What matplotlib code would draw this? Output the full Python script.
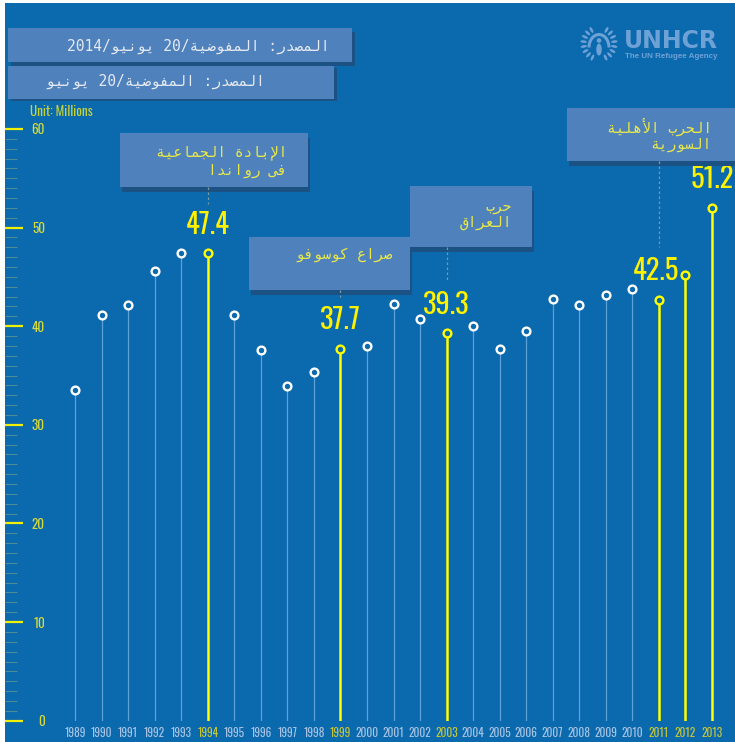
import re
import math
import matplotlib
matplotlib.use("Agg")
import matplotlib.pyplot as plt
from matplotlib import font_manager as fm
from matplotlib.font_manager import FontProperties
from matplotlib.ft2font import FT2Font
from matplotlib.patches import Rectangle, Ellipse, Circle, Arc
from matplotlib.ticker import FixedLocator
import matplotlib.transforms as mtransforms

# ---------------- data ----------------
years = list(range(1989, 2014))
values = [33.5, 41.1, 42.1, 45.6, 47.4, 47.4, 41.1, 37.6, 33.9, 35.4,
          37.7, 38.0, 42.2, 40.7, 39.3, 40.0, 37.7, 39.5, 42.8, 42.1,
          43.2, 43.8, 42.7, 45.2, 52.0]
highlight_years = [1994, 1999, 2003, 2011, 2012, 2013]
label_years = [1994, 1999, 2003, 2011, 2013]
label_texts = ["47.4", "37.7", "39.3", "42.5", "51.2"]
y_ticks = [0, 10, 20, 30, 40, 50, 60]
unit_label = "Unit: Millions"
source_lines = ["المصدر: المفوضية/20 يونيو/2014", "المصدر: المفوضية/20 يونيو"]
event_years = [1994, 1999, 2003, 2011]
event_texts = [["الإبادة الجماعية", "فى رواندا"],
               ["صراع كوسوفو"],
               ["حرب", "العراق"],
               ["الحرب الأهلية", "السورية"]]
logo_title = "UNHCR"
logo_sub = "The UN Refugee Agency"

# ---------------- colours ----------------
BG = "#0b69ad"
BOX = "#4f81bd"
SHADOW = "#1c5283"
STEM = "#5ea0d8"
YEL = "#ffff00"
LBL_YEL = "#fff200"
TICK_LBL = "#d6d93a"
YEAR_C = "#a8c3e3"
YEAR_HL = "#c6c63a"
MINOR = "#4b8c96"
CONN = "#7a9aa0"
LOGO = "#6ea1d6"
HEAD_TXT = "#e4e9f2"
ANN_TXT = "#e8e84a"

# ---------------- fonts ----------------
avail = {f.name for f in fm.fontManager.ttflist}


def pick(cands):
    for c in cands:
        if c in avail:
            return c
    return "DejaVu Sans"


COND = pick(["Oswald", "Bebas Neue", "Roboto Condensed", "Archivo Narrow",
             "Liberation Sans Narrow", "DejaVu Sans"])


def has_arabic(fam):
    try:
        p = fm.findfont(FontProperties(family=fam), fallback_to_default=False)
        cm = FT2Font(p).get_charmap()
        return 0xFEE3 in cm and 0xFEFB in cm
    except Exception:
        return False


ARAB = "DejaVu Sans Mono" if has_arabic("DejaVu Sans Mono") else "DejaVu Sans"

# ---------------- arabic shaping for display ----------------
RJ = {0x0622: 0xFE81, 0x0623: 0xFE83, 0x0624: 0xFE85, 0x0625: 0xFE87,
      0x0627: 0xFE8D, 0x0629: 0xFE93, 0x062F: 0xFEA9, 0x0630: 0xFEAB,
      0x0631: 0xFEAD, 0x0632: 0xFEAF, 0x0648: 0xFEED, 0x0649: 0xFEEF}
DJ = {0x0626: 0xFE89, 0x0628: 0xFE8F, 0x062A: 0xFE95, 0x062B: 0xFE99,
      0x062C: 0xFE9D, 0x062D: 0xFEA1, 0x062E: 0xFEA5, 0x0633: 0xFEB1,
      0x0634: 0xFEB5, 0x0635: 0xFEB9, 0x0636: 0xFEBD, 0x0637: 0xFEC1,
      0x0638: 0xFEC5, 0x0639: 0xFEC9, 0x063A: 0xFECD, 0x0641: 0xFED1,
      0x0642: 0xFED5, 0x0643: 0xFED9, 0x0644: 0xFEDD, 0x0645: 0xFEE1,
      0x0646: 0xFEE5, 0x0647: 0xFEE9, 0x064A: 0xFEF1}
LAMALEF = {0x0622: 0xFEF5, 0x0623: 0xFEF7, 0x0625: 0xFEF9, 0x0627: 0xFEFB}


def rtl(s):
    toks = []
    i = 0
    while i < len(s):
        c = ord(s[i])
        if c == 0x0644 and i + 1 < len(s) and ord(s[i + 1]) in LAMALEF:
            toks.append(("LA", LAMALEF[ord(s[i + 1])]))
            i += 2
            continue
        if c in DJ:
            toks.append(("DJ", DJ[c]))
        elif c in RJ:
            toks.append(("RJ", RJ[c]))
        else:
            toks.append(("N", s[i]))
        i += 1
    out = []
    for k, (kind, val) in enumerate(toks):
        if kind == "N":
            out.append(val)
            continue
        prev = k > 0 and toks[k - 1][0] == "DJ"
        nxt = kind == "DJ" and k + 1 < len(toks) and toks[k + 1][0] in ("DJ", "RJ", "LA")
        if kind == "DJ":
            off = (1 if prev else 0) + (2 if nxt else 0)
        else:
            off = 1 if prev else 0
        out.append(chr(val + off))
    runs = re.findall(r"[0-9A-Za-z.]+|[^0-9A-Za-z.]", "".join(out))
    return "".join(reversed(runs))


# ---------------- figure ----------------
W, H = 735, 742
fig = plt.figure(figsize=(W / 100, H / 100), dpi=100, facecolor="white")
fig.patches.append(Rectangle((5 / W, 0), (W - 5) / W, (H - 3) / H,
                             transform=fig.transFigure, facecolor=BG,
                             edgecolor="none", zorder=-5))

y0_px = 720.7   # pixel row of value 0
ax = fig.add_axes([5 / W, (H - y0_px) / H, (W - 5) / W, (y0_px - 3) / H], zorder=1)
ax.set_facecolor("none")
for s in ax.spines.values():
    s.set_visible(False)
ax.set_xlim(1986.363, 2013.866)
ax.set_ylim(0, 72.77)

vals = dict(zip(years, values))
light_x = [y for y in years if y not in highlight_years]
hl_x = [y for y in years if y in highlight_years]
ax.vlines(light_x, 0, [vals[y] for y in light_x], colors=STEM, linewidth=0.9, zorder=2)
ax.vlines(hl_x, 0, [vals[y] for y in hl_x], colors=YEL, linewidth=1.8, zorder=2)
ax.plot(light_x, [vals[y] for y in light_x], linestyle="none", marker="o",
        ms=5.6, mew=1.7, mec="white", mfc=BG, zorder=4, clip_on=False)
ax.plot(hl_x, [vals[y] for y in hl_x], linestyle="none", marker="o",
        ms=5.6, mew=1.7, mec=YEL, mfc=BG, zorder=4, clip_on=False)

# value labels (small horizontal nudge for the 2011 label, as in the original)
label_dx = [0, 0, 0, -2, 0]
for yr, txt, dx in zip(label_years, label_texts, label_dx):
    ax.annotate(txt, xy=(yr, vals[yr]), xytext=(dx, 20.5), textcoords="offset points",
                ha="center", va="center", fontsize=20.5, color=LBL_YEL,
                family=COND, fontweight="bold", zorder=5)

# x tick labels (years)
ax.set_xticks(years)
ax.set_xticklabels([str(y) for y in years])
ax.tick_params(axis="x", length=0, pad=4.5, labelsize=8.2)
for lbl, yr in zip(ax.get_xticklabels(), years):
    lbl.set_family(COND)
    lbl.set_color(YEAR_HL if yr in highlight_years else YEAR_C)

# y ticks
ax.set_yticks(y_ticks)
ax.set_yticklabels([str(v) for v in y_ticks])
ax.yaxis.set_minor_locator(FixedLocator([v for v in range(1, 60) if v % 10]))
ax.tick_params(axis="y", which="major", direction="in", length=13, width=1.6,
               color="#f0f000", pad=-28.8, labelsize=9.5, labelcolor=TICK_LBL)
ax.tick_params(axis="y", which="minor", direction="in", length=8.6, width=0.8,
               color=MINOR)
for lbl in ax.get_yticklabels():
    lbl.set_family(COND)

# ---------------- overlay (pixel coordinates) ----------------
ov = fig.add_axes([0, 0, 1, 1], zorder=5)
ov.set_xlim(0, W)
ov.set_ylim(H, 0)
ov.axis("off")
ov.patch.set_visible(False)


def box(x0, y0, x1, y1, dx=3, dy=4):
    ov.add_patch(Rectangle((x0 + dx, y0 + dy), x1 - x0, y1 - y0,
                           facecolor=SHADOW, edgecolor="none", zorder=1))
    ov.add_patch(Rectangle((x0, y0), x1 - x0, y1 - y0,
                           facecolor=BOX, edgecolor="none", zorder=2))


arab_family = [ARAB, "DejaVu Sans"]

# header boxes
box(8, 28, 352, 62)
box(8, 66, 334, 99, dy=2)
ov.text(330, 46, rtl(source_lines[0]), ha="right", va="center", fontsize=10.5,
        color=HEAD_TXT, family=arab_family, zorder=3)
ov.text(265, 81, rtl(source_lines[1]), ha="right", va="center", fontsize=10.5,
        color=HEAD_TXT, family=arab_family, zorder=3)

ov.text(30, 111, unit_label, ha="left", va="center", fontsize=9.5,
        color="#c5d23a", family=COND, zorder=3)

# event boxes: (box rect, text right x, line y centres, connector length)
event_layout = [
    ((120, 133, 308, 187), 287, [152, 170], 17),
    ((249, 237, 410, 290), 392, [255], 7),
    ((410, 186, 532, 247), 512, [207, 223], 35),
    ((567, 108, 745, 161), 712, [127, 145], 86),
]
blend = mtransforms.blended_transform_factory(ax.transData, ov.transData)
for yr, lines, (rect, tx, tys, clen) in zip(event_years, event_texts, event_layout):
    x0, y0, x1, y1 = rect
    box(x0, y0, x1, y1, dx=2, dy=5)
    for line, ty in zip(lines, tys):
        ov.text(tx, ty, rtl(line), ha="right", va="center", fontsize=10.5,
                color=ANN_TXT, family=arab_family, zorder=3)
    ov.plot([yr, yr], [y1, y1 + clen], transform=blend, color=CONN,
            linewidth=0.9, linestyle=(0, (2, 2)), zorder=3)

# logo
ov.text(624, 41.5, logo_title, ha="left", va="center", fontsize=17,
        fontweight="bold", color=LOGO, family="DejaVu Sans", zorder=3)
ov.text(625, 56.5, logo_sub, ha="left", va="center", fontsize=5.8,
        fontweight="bold", color=LOGO, family="Liberation Sans", zorder=3)
cx, cy, R = 599, 43.5, 15.5
for side in (-1, 1):
    for k in range(8):
        phi = math.radians(25 + k * 18)
        lx = cx + side * R * math.sin(phi)
        ly = cy + R * math.cos(phi)
        ang = side * (90 - math.degrees(phi))
        ov.add_patch(Ellipse((lx, ly), 6.5, 2.6, angle=ang, facecolor=LOGO,
                             edgecolor="none", zorder=3))
ov.add_patch(Arc((cx, cy + 4), 20, 26, theta1=180, theta2=360, color=LOGO,
                 linewidth=2.2, zorder=3))
ov.add_patch(Circle((cx, cy - 3), 2.3, facecolor=LOGO, edgecolor="none", zorder=3))
ov.add_patch(Ellipse((cx, cy + 6), 5.5, 12, facecolor=LOGO, edgecolor="none", zorder=3))

fig.savefig("out.png", dpi=100, facecolor="white")
